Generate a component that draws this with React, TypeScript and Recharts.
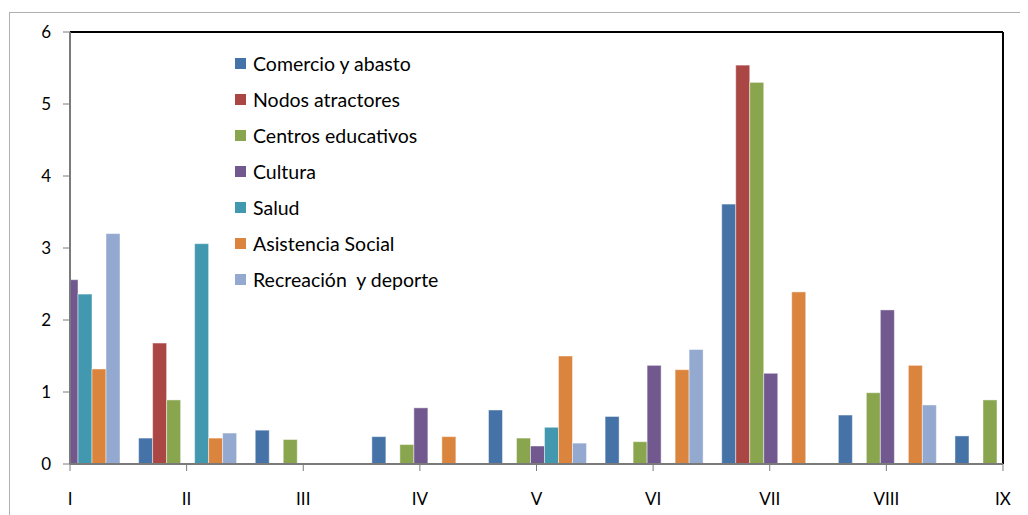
import { Bar, BarChart, Legend, ReferenceLine, XAxis, YAxis } from "recharts";

const categories = ["I", "II", "III", "IV", "V", "VI", "VII", "VIII", "IX"];

const comercio = [0, 0.36, 0.47, 0.38, 0.75, 0.66, 3.61, 0.68, 0.39];
const nodos = [0, 1.68, 0, 0, 0, 0, 5.54, 0, 0];
const centros = [0, 0.89, 0.34, 0.27, 0.36, 0.31, 5.3, 0.99, 0.89];
const cultura = [2.56, 0, 0, 0.78, 0.25, 1.37, 1.26, 2.14, 0];
const salud = [2.36, 3.06, 0, 0, 0.51, 0, 0, 0, 0];
const asistencia = [1.32, 0.36, 0, 0.38, 1.5, 1.31, 2.39, 1.37, 0];
const recreacion = [3.2, 0.43, 0, 0, 0.29, 1.59, 0, 0.82, 0];

const yTicks = [0, 1, 2, 3, 4, 5, 6];

const series = [
  { key: "comercio", name: "Comercio y abasto", color: "#4572A7", values: comercio },
  { key: "nodos", name: "Nodos atractores", color: "#AA4643", values: nodos },
  { key: "centros", name: "Centros educativos", color: "#89A54E", values: centros },
  { key: "cultura", name: "Cultura", color: "#71588F", values: cultura },
  { key: "salud", name: "Salud", color: "#4198AF", values: salud },
  { key: "asistencia", name: "Asistencia Social", color: "#DB843D", values: asistencia },
  { key: "recreacion", name: "Recreación  y deporte", color: "#93A9CF", values: recreacion },
];

const data = categories.map((cat, i) => {
  const row: Record<string, string | number> = { cat };
  series.forEach((s) => {
    row[s.key] = s.values[i];
  });
  return row;
});

const FONT = "Lato, 'Liberation Sans', sans-serif";
const AXIS = "#7a7a7a";

// plot area edges (margin.left + y axis width, chart width - margin.right)
const PLOT_LEFT = 62;
const PLOT_RIGHT = 995;

// the first and last categories sit on the plot edges, so cut bars there
function ClippedBar(props: any) {
  const { x, y, width, height, fill, stroke, strokeOpacity, strokeWidth } = props;
  const left = Math.max(x, PLOT_LEFT);
  const right = Math.min(x + width, PLOT_RIGHT);
  if (right <= left || !height) return null;
  return (
    <rect
      x={left}
      y={y}
      width={right - left}
      height={height}
      fill={fill}
      stroke={stroke}
      strokeOpacity={strokeOpacity}
      strokeWidth={strokeWidth}
    />
  );
}

function ChartLegend() {
  return (
    <div style={{ fontSize: 19.5, color: "#000" }}>
      {series.map((s) => (
        <div
          key={s.key}
          style={{ display: "flex", alignItems: "center", height: 36 }}
        >
          <span
            style={{
              display: "inline-block",
              width: 11,
              height: 11,
              background: s.color,
              marginRight: 7,
            }}
          />
          <span style={{ whiteSpace: "pre" }}>{s.name}</span>
        </div>
      ))}
    </div>
  );
}

export default function App() {
  return (
    <div
      style={{
        position: "relative",
        width: 1020,
        height: 507,
        overflow: "hidden",
        fontFamily: FONT,
      }}
    >
      <div
        style={{
          position: "absolute",
          left: 1,
          top: 4,
          width: 1100,
          height: 600,
          border: "1px solid #b0b0b0",
          pointerEvents: "none",
        }}
      />
      <BarChart
        width={1020}
        height={507}
        data={data}
        margin={{ top: 24, right: 25, left: 0, bottom: 0 }}
        barCategoryGap={10.3}
        barGap={0}
      >
        <XAxis
          dataKey="cat"
          interval={0}
          padding={{ left: -58.3, right: -58.3 }}
          height={51}
          tickSize={7}
          tickMargin={22}
          tick={{ fontSize: 17, fill: "#000" }}
          tickLine={{ stroke: AXIS }}
          axisLine={{ stroke: AXIS, strokeWidth: 2 }}
        />
        <YAxis
          domain={[0, 6]}
          ticks={yTicks}
          width={62}
          tickSize={7}
          tickMargin={12}
          tick={{ fontSize: 17, fill: "#000" }}
          tickLine={{ stroke: AXIS }}
          axisLine={{ stroke: AXIS, strokeWidth: 2 }}
        />
        <ReferenceLine y={6} stroke="#000" strokeWidth={2} />
        <ReferenceLine x="IX" stroke="#000" strokeWidth={2} />
        <Legend
          layout="vertical"
          align="center"
          verticalAlign="middle"
          content={<ChartLegend />}
          wrapperStyle={{ left: 227, top: 37, width: 280 }}
        />
        {series.map((s) => (
          <Bar
            key={s.key}
            dataKey={s.key}
            name={s.name}
            fill={s.color}
            stroke="#ffffff"
            strokeOpacity={0.45}
            strokeWidth={1}
            shape={ClippedBar}
            isAnimationActive={false}
          />
        ))}
      </BarChart>
    </div>
  );
}
